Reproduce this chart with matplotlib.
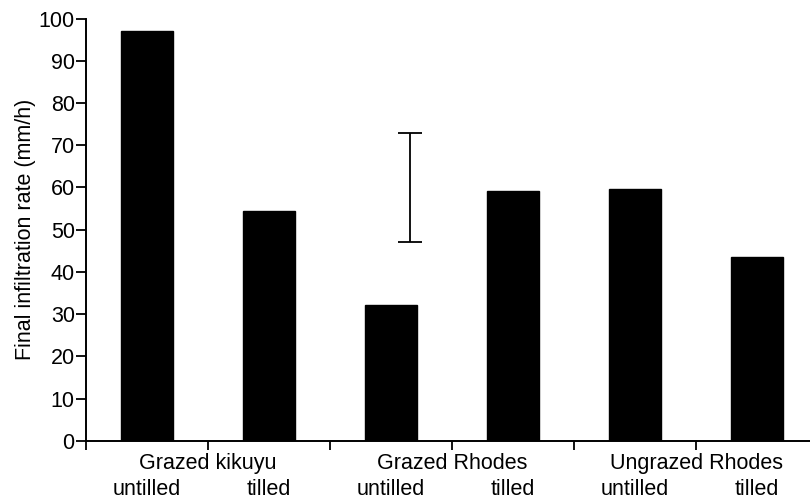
import matplotlib
matplotlib.use("Agg")
import matplotlib.pyplot as plt
import numpy as np

plt.rcParams["font.family"] = ["Liberation Sans", "DejaVu Sans"]

# ── data ───────────────────────────────────────────────────────────────
groups = ["Grazed kikuyu", "Grazed Rhodes", "Ungrazed Rhodes"]
treatments = ["untilled", "tilled"]
rates = [97.0, 54.4, 32.2, 59.1, 59.7, 43.6]   # final infiltration rate (mm/h)
lsd_center = 60.0                              # LSD bar
lsd_half = 12.8
lsd_x = 2.16

FS = 15.5

fig = plt.figure(figsize=(8.1, 5.01), dpi=100)
ax = fig.add_axes([0.106, 0.12, 0.894, 0.843])

x = np.arange(len(rates))
ax.bar(x, rates, width=0.42, color="black", edgecolor="black")
ax.errorbar([lsd_x], [lsd_center], yerr=[lsd_half], fmt="none",
            ecolor="black", elinewidth=1.3, capsize=8.5, capthick=1.3)

ax.set_xlim(-0.5, 5.434)
ax.set_ylim(0, 100)
ax.set_yticks(np.arange(0, 101, 10))
ax.set_ylabel("Final infiltration rate (mm/h)", fontsize=FS, labelpad=2)

# group boundaries -> major ticks, group names centred on pairs
ax.set_xticks([-0.5, 0.5, 1.5, 2.5, 3.5, 4.5])
ax.set_xticklabels(["", groups[0], "", groups[1], "", groups[2]])
ax.set_xticks(x, minor=True)
ax.set_xticklabels(treatments * len(groups), minor=True)

ax.tick_params(axis="x", which="major", direction="out", length=6.5,
               width=1.3, pad=2, labelsize=FS)
ax.tick_params(axis="x", which="minor", length=0, pad=27.5, labelsize=FS)
ax.tick_params(axis="y", direction="out", length=7, width=1.3, pad=1,
               labelsize=FS)

for s in ["top", "right"]:
    ax.spines[s].set_visible(False)
for s in ["left", "bottom"]:
    ax.spines[s].set_linewidth(1.4)

fig.savefig("out.png", dpi=100)
